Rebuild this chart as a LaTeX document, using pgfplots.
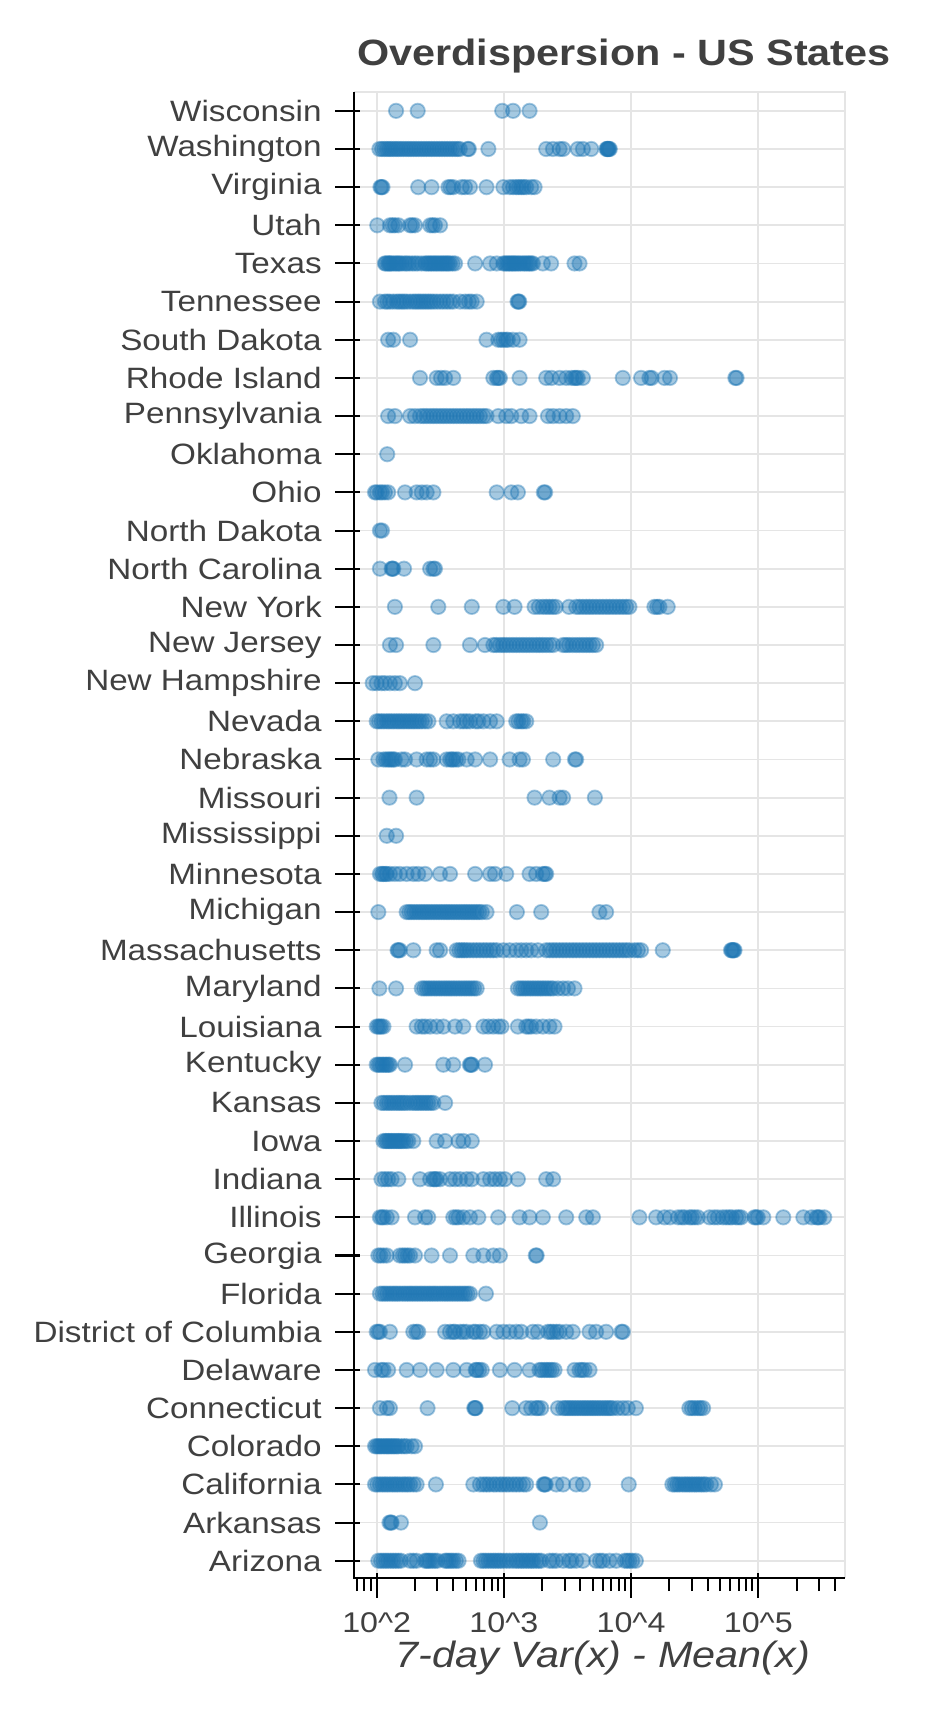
\documentclass[border=0pt]{standalone}
\usepackage{fontspec}
\setmainfont{Liberation Sans}[FakeStretch=1.13]
\usepackage{pgfplots}
\pgfplotsset{compat=1.18}
\definecolor{mblue}{HTML}{1F77B4}
\definecolor{gridgray}{HTML}{E5E5E5}
\definecolor{txtgray}{HTML}{404040}
\pgfplotsset{pts/.style={only marks, mark=*, mark size=2.4bp,
  mark options={draw=mblue, fill=mblue, opacity=0.4, line width=0.6bp}}}
\begin{document}
\begin{tikzpicture}
\useasboundingbox (0bp,0bp) rectangle (312.667bp,573bp);
\begin{axis}[at={(118bp,46.9bp)}, anchor=south west,
  width=163.67bp, height=495.5bp, scale only axis,
  xmode=log, xmin=66.3, xmax=480400, ymin=-0.46, ymax=38.5,
  xtick={100,1000,10000,100000},
  xticklabels={10\textasciicircum2,10\textasciicircum3,10\textasciicircum4,10\textasciicircum5},
  minor xtick={70,80,90,200,300,400,500,600,700,800,900,2000,3000,4000,5000,6000,7000,8000,9000,20000,30000,40000,50000,60000,70000,80000,90000,200000,300000,400000},
  ytick={0,...,38},
  yticklabels={Arizona,Arkansas,California,Colorado,Connecticut,Delaware,District of Columbia,Florida,Georgia,Illinois,Indiana,Iowa,Kansas,Kentucky,Louisiana,Maryland,Massachusetts,Michigan,Minnesota,Mississippi,Missouri,Nebraska,Nevada,New Hampshire,New Jersey,New York,North Carolina,North Dakota,Ohio,Oklahoma,Pennsylvania,Rhode Island,South Dakota,Tennessee,Texas,Utah,Virginia,Washington,Wisconsin},
  tick pos=left, tick align=outside,
  major tick length=8.2bp, minor tick length=4.3bp,
  every tick/.style={black, line width=0.67bp},
  every major x tick/.append style={yshift=1.7bp},
  every major y tick/.append style={xshift=2bp},
  grid=major, major grid style={color=gridgray, line width=0.6bp},
  axis line style={draw=none},
  ticklabel style={text=txtgray, inner sep=0pt},
  xticklabel style={font=\fontsize{9.5bp}{11bp}\selectfont, anchor=base, yshift=-9.9bp},
  yticklabel style={font=\fontsize{9.8bp}{11bp}\selectfont, anchor=east, xshift=-2.4bp},
  clip=false,
]
% 0 Arizona
\addplot[pts] coordinates {(103,0)(108,0)(113,0)(118,0)(123,0)(129,0)(135,0)(141,0)(148,0)(155,0)(183,0)(194,0)(206,0)(240,0)(247,0)(255,0)(263,0)(275,0)(287,0)(300,0)(345,0)(355,0)(370,0)(385,0)(400,0)(420,0)(440,0)(660,0)(690,0)(720,0)(755,0)(790,0)(826,0)(860,0)(903,0)(940,0)(990,0)(1050,0)(1108,0)(1180,0)(1250,0)(1300,0)(1369,0)(1420,0)(1498,0)(1560,0)(1640,0)(1700,0)(1795,0)(1880,0)(1965,0)(2280,0)(2420,0)(2580,0)(2920,0)(3250,0)(3400,0)(3700,0)(4180,0)(5310,0)(5700,0)(6000,0)(6770,0)(7640,0)(8900,0)(9300,0)(9700,0)(10200,0)(10900,0)};
% 1 Arkansas
\addplot[pts] coordinates {(126,1)(129,1)(131,1)(155,1)(1920,1)};
% 2 California
\addplot[pts] coordinates {(97,2)(101,2)(106,2)(111,2)(116,2)(121,2)(127,2)(133,2)(139,2)(145,2)(152,2)(160,2)(167,2)(175,2)(183,2)(195,2)(206,2)(292,2)(575,2)(648,2)(690,2)(730,2)(770,2)(826,2)(870,2)(930,2)(980,2)(1043,2)(1100,2)(1177,2)(1250,2)(1328,2)(1420,2)(1498,2)(2050,2)(2090,2)(2130,2)(2580,2)(2920,2)(3700,2)(4180,2)(9580,2)(21100,2)(22000,2)(23000,2)(24000,2)(25300,2)(26500,2)(27600,2)(28800,2)(30100,2)(31500,2)(32800,2)(34200,2)(35800,2)(37400,2)(39000,2)(42400,2)(45600,2)};
% 3 Colorado
\addplot[pts] coordinates {(97,3)(100,3)(103,3)(106,3)(109,3)(113,3)(116,3)(120,3)(123,3)(127,3)(131,3)(135,3)(139,3)(144,3)(148,3)(157,3)(165,3)(172,3)(188,3)(200,3)};
% 4 Connecticut
\addplot[pts] coordinates {(106,4)(120,4)(127,4)(251,4)(585,4)(594,4)(600,4)(1163,4)(1498,4)(1640,4)(1795,4)(1850,4)(1965,4)(2660,4)(2920,4)(3050,4)(3190,4)(3330,4)(3480,4)(3650,4)(3810,4)(4000,4)(4180,4)(4370,4)(4560,4)(4770,4)(4980,4)(5200,4)(5450,4)(5700,4)(5990,4)(6270,4)(6570,4)(6850,4)(7170,4)(7830,4)(8620,4)(9420,4)(10900,4)(28700,4)(30000,4)(31600,4)(33500,4)(35000,4)(36800,4)};
% 5 Delaware
\addplot[pts] coordinates {(97,5)(109,5)(113,5)(123,5)(172,5)(219,5)(296,5)(400,5)(510,5)(600,5)(611,5)(640,5)(670,5)(930,5)(1213,5)(1591,5)(1905,5)(1980,5)(2090,5)(2180,5)(2280,5)(2380,5)(2500,5)(3590,5)(3930,5)(4100,5)(4300,5)(4710,5)};
% 6 District of Columbia
\addplot[pts] coordinates {(100,6)(103,6)(106,6)(127,6)(194,6)(205,6)(212,6)(345,6)(377,6)(400,6)(413,6)(452,6)(480,6)(510,6)(575,6)(600,6)(648,6)(690,6)(878,6)(990,6)(1108,6)(1250,6)(1369,6)(1690,6)(1850,6)(2220,6)(2330,6)(2440,6)(2600,6)(2740,6)(3090,6)(3480,6)(4710,6)(5310,6)(6360,6)(8400,6)(8620,6)};
% 7 Florida
\addplot[pts] coordinates {(106,7)(111,7)(116,7)(121,7)(127,7)(133,7)(139,7)(145,7)(152,7)(160,7)(167,7)(175,7)(183,7)(191,7)(200,7)(209,7)(219,7)(229,7)(240,7)(251,7)(263,7)(275,7)(287,7)(300,7)(315,7)(330,7)(345,7)(360,7)(377,7)(395,7)(413,7)(432,7)(452,7)(473,7)(495,7)(518,7)(541,7)(722,7)};
% 8 Georgia
\addplot[pts] coordinates {(103,8)(107,8)(113,8)(120,8)(152,8)(160,8)(167,8)(175,8)(183,8)(200,8)(270,8)(377,8)(575,8)(690,8)(826,8)(930,8)(1780,8)(1810,8)};
% 9 Illinois
\addplot[pts] coordinates {(106,9)(110,9)(113,9)(120,9)(131,9)(200,9)(240,9)(254,9)(400,9)(420,9)(439,9)(480,9)(541,9)(630,9)(903,9)(1328,9)(1591,9)(2024,9)(3090,9)(4440,9)(5010,9)(11630,9)(15720,9)(18300,9)(20200,9)(23400,9)(25000,9)(26300,9)(28800,9)(30000,9)(31600,9)(33500,9)(41400,9)(45000,9)(48100,9)(52600,9)(56000,9)(59300,9)(62000,9)(66900,9)(70000,9)(73200,9)(93200,9)(96000,9)(99000,9)(109500,9)(157200,9)(226000,9)(262500,9)(287000,9)(295000,9)(303000,9)(330000,9)};
% 10 Indiana
\addplot[pts] coordinates {(109,10)(116,10)(123,10)(131,10)(148,10)(219,10)(263,10)(280,10)(287,10)(295,10)(315,10)(377,10)(413,10)(452,10)(510,10)(559,10)(690,10)(779,10)(850,10)(930,10)(1017,10)(1288,10)(2150,10)(2440,10)};
% 11 Iowa
\addplot[pts] coordinates {(113,11)(117,11)(120,11)(124,11)(127,11)(131,11)(135,11)(139,11)(144,11)(148,11)(152,11)(157,11)(162,11)(170,11)(177,11)(194,11)(296,11)(345,11)(439,11)(480,11)(559,11)};
% 12 Kansas
\addplot[pts] coordinates {(109,12)(114,12)(120,12)(125,12)(131,12)(137,12)(144,12)(150,12)(157,12)(164,12)(172,12)(183,12)(194,12)(203,12)(212,12)(222,12)(232,12)(243,12)(254,12)(266,12)(279,12)(345,12)};
% 13 Kentucky
\addplot[pts] coordinates {(100,13)(103,13)(106,13)(110,13)(113,13)(117,13)(120,13)(124,13)(127,13)(167,13)(334,13)(400,13)(540,13)(550,13)(560,13)(710,13)};
% 14 Louisiana
\addplot[pts] coordinates {(100,14)(103,14)(106,14)(109,14)(113,14)(206,14)(226,14)(240,14)(263,14)(296,14)(334,14)(413,14)(480,14)(690,14)(755,14)(826,14)(903,14)(959,14)(1288,14)(1498,14)(1560,14)(1640,14)(1795,14)(2024,14)(2280,14)(2500,14)};
% 15 Maryland
\addplot[pts] coordinates {(105,15)(142,15)(226,15)(236,15)(247,15)(258,15)(270,15)(283,15)(296,15)(310,15)(324,15)(340,15)(355,15)(371,15)(388,15)(406,15)(425,15)(445,15)(466,15)(488,15)(510,15)(533,15)(558,15)(584,15)(611,15)(1288,15)(1350,15)(1410,15)(1475,15)(1544,15)(1615,15)(1690,15)(1770,15)(1850,15)(1935,15)(2024,15)(2120,15)(2220,15)(2330,15)(2440,15)(2660,15)(2920,15)(3190,15)(3590,15)};
% 16 Massachusetts
\addplot[pts] coordinates {(146,16)(148,16)(152,16)(194,16)(296,16)(315,16)(425,16)(446,16)(466,16)(488,16)(510,16)(540,16)(575,16)(610,16)(648,16)(690,16)(730,16)(780,16)(826,16)(878,16)(990,16)(1108,16)(1250,16)(1369,16)(1498,16)(1640,16)(1850,16)(2150,16)(2290,16)(2430,16)(2580,16)(2740,16)(2910,16)(3090,16)(3290,16)(3490,16)(3700,16)(3930,16)(4180,16)(4440,16)(4720,16)(5010,16)(5320,16)(5650,16)(6000,16)(6380,16)(6780,16)(7200,16)(7650,16)(8120,16)(8620,16)(9150,16)(9700,16)(10600,16)(11300,16)(11980,16)(17730,16)(61000,16)(62000,16)(63000,16)(64000,16)(65000,16)};
% 17 Michigan
\addplot[pts] coordinates {(103,17)(172,17)(180,17)(188,17)(197,17)(206,17)(216,17)(226,17)(236,17)(247,17)(258,17)(270,17)(283,17)(296,17)(310,17)(324,17)(340,17)(355,17)(371,17)(388,17)(406,17)(425,17)(445,17)(466,17)(488,17)(510,17)(533,17)(558,17)(584,17)(611,17)(640,17)(670,17)(730,17)(1265,17)(1965,17)(5640,17)(6360,17)};
% 18 Minnesota
\addplot[pts] coordinates {(106,18)(110,18)(113,18)(117,18)(120,18)(127,18)(139,18)(152,18)(172,18)(194,18)(212,18)(240,18)(315,18)(377,18)(594,18)(779,18)(850,18)(1043,18)(1591,18)(1795,18)(2024,18)(2100,18)(2150,18)};
% 19 Mississippi
\addplot[pts] coordinates {(120,19)(142,19)};
% 20 Missouri
\addplot[pts] coordinates {(126,20)(206,20)(1742,20)(2280,20)(2740,20)(2920,20)(5190,20)};
% 21 Nebraska
\addplot[pts] coordinates {(103,21)(113,21)(118,21)(123,21)(127,21)(131,21)(135,21)(139,21)(157,21)(167,21)(206,21)(247,21)(263,21)(279,21)(355,21)(377,21)(390,21)(400,21)(420,21)(439,21)(510,21)(594,21)(779,21)(1108,21)(1328,21)(1410,21)(2440,21)(3620,21)(3700,21)};
% 22 Nevada
\addplot[pts] coordinates {(100,22)(104,22)(109,22)(114,22)(120,22)(125,22)(131,22)(137,22)(144,22)(150,22)(157,22)(164,22)(172,22)(180,22)(188,22)(197,22)(206,22)(216,22)(226,22)(240,22)(255,22)(355,22)(400,22)(452,22)(480,22)(510,22)(541,22)(600,22)(630,22)(690,22)(779,22)(878,22)(1250,22)(1300,22)(1369,22)(1420,22)(1498,22)};
% 23 New Hampshire
\addplot[pts] coordinates {(93,23)(100,23)(109,23)(116,23)(127,23)(139,23)(152,23)(200,23)};
% 24 New Jersey
\addplot[pts] coordinates {(127,24)(142,24)(279,24)(541,24)(710,24)(826,24)(870,24)(930,24)(985,24)(1043,24)(1108,24)(1177,24)(1250,24)(1328,24)(1410,24)(1498,24)(1590,24)(1690,24)(1800,24)(1905,24)(2020,24)(2150,24)(2290,24)(2440,24)(2920,24)(3080,24)(3250,24)(3470,24)(3700,24)(3930,24)(4180,24)(4440,24)(4710,24)(5000,24)(5310,24)};
% 25 New York
\addplot[pts] coordinates {(139,25)(305,25)(559,25)(990,25)(1213,25)(1742,25)(1880,25)(2024,25)(2150,25)(2280,25)(2420,25)(2560,25)(3250,25)(3700,25)(3930,25)(4180,25)(4440,25)(4710,25)(5000,25)(5310,25)(5650,25)(6000,25)(6380,25)(6770,25)(7200,25)(7640,25)(8120,25)(8620,25)(9150,25)(9700,25)(15250,25)(16000,25)(16700,25)(19400,25)};
% 26 North Carolina
\addplot[pts] coordinates {(106,26)(131,26)(133,26)(135,26)(164,26)(263,26)(279,26)(287,26)};
% 27 North Dakota
\addplot[pts] coordinates {(106,27)(110,27)};
% 28 Ohio
\addplot[pts] coordinates {(97,28)(100,28)(106,28)(110,28)(116,28)(123,28)(167,28)(206,28)(226,28)(247,28)(279,28)(878,28)(1144,28)(1288,28)(2060,28)(2110,28)};
% 29 Oklahoma
\addplot[pts] coordinates {(121,29)};
% 30 Pennsylvania
\addplot[pts] coordinates {(123,30)(139,30)(183,30)(200,30)(219,30)(233,30)(247,30)(263,30)(279,30)(296,30)(315,30)(334,30)(355,30)(377,30)(400,30)(425,30)(452,30)(480,30)(510,30)(540,30)(575,30)(610,30)(648,30)(690,30)(730,30)(903,30)(1043,30)(1144,30)(1369,30)(1591,30)(2220,30)(2440,30)(2740,30)(3090,30)(3480,30)};
% 31 Rhode Island
\addplot[pts] coordinates {(219,31)(296,31)(320,31)(345,31)(400,31)(826,31)(880,31)(903,31)(930,31)(1328,31)(2150,31)(2370,31)(2740,31)(3090,31)(3400,31)(3590,31)(3700,31)(3810,31)(4180,31)(8600,31)(11980,31)(13930,31)(14500,31)(18300,31)(20200,31)(66000,31)(67500,31)};
% 32 South Dakota
\addplot[pts] coordinates {(123,32)(135,32)(183,32)(730,32)(903,32)(950,32)(990,32)(1040,32)(1075,32)(1177,32)(1328,32)};
% 33 Tennessee
\addplot[pts] coordinates {(106,33)(116,33)(121,33)(127,33)(135,33)(144,33)(150,33)(157,33)(164,33)(172,33)(183,33)(194,33)(203,33)(212,33)(222,33)(232,33)(243,33)(254,33)(266,33)(279,33)(296,33)(315,33)(334,33)(355,33)(377,33)(400,33)(452,33)(495,33)(530,33)(558,33)(611,33)(1280,33)(1300,33)(1320,33)};
% 34 Texas
\addplot[pts] coordinates {(116,34)(118,34)(122,34)(125,34)(127,34)(130,34)(135,34)(140,34)(144,34)(148,34)(152,34)(158,34)(167,34)(172,34)(180,34)(190,34)(200,34)(210,34)(225,34)(240,34)(247,34)(255,34)(263,34)(270,34)(279,34)(287,34)(296,34)(305,34)(315,34)(325,34)(334,34)(345,34)(355,34)(365,34)(377,34)(395,34)(413,34)(594,34)(779,34)(878,34)(990,34)(1020,34)(1050,34)(1080,34)(1108,34)(1140,34)(1170,34)(1200,34)(1230,34)(1270,34)(1310,34)(1350,34)(1410,34)(1450,34)(1500,34)(1550,34)(1591,34)(1640,34)(1690,34)(2024,34)(2350,34)(3590,34)(3930,34)};
% 35 Utah
\addplot[pts] coordinates {(101,35)(127,35)(133,35)(139,35)(148,35)(183,35)(190,35)(200,35)(263,35)(275,35)(287,35)(315,35)};
% 36 Virginia
\addplot[pts] coordinates {(107,36)(109,36)(111,36)(212,36)(270,36)(366,36)(380,36)(400,36)(466,36)(495,36)(541,36)(730,36)(990,36)(1108,36)(1180,36)(1250,36)(1310,36)(1369,36)(1430,36)(1498,36)(1640,36)(1742,36)};
% 37 Washington
\addplot[pts] coordinates {(105,37)(110,37)(115,37)(120,37)(125,37)(130,37)(136,37)(142,37)(148,37)(155,37)(162,37)(170,37)(178,37)(186,37)(195,37)(204,37)(214,37)(224,37)(235,37)(246,37)(258,37)(270,37)(283,37)(297,37)(311,37)(326,37)(342,37)(358,37)(376,37)(394,37)(413,37)(433,37)(450,37)(520,37)(530,37)(755,37)(2150,37)(2430,37)(2740,37)(2920,37)(3810,37)(4180,37)(4860,37)(6400,37)(6500,37)(6550,37)(6600,37)(6700,37)(6800,37)};
% 38 Wisconsin
\addplot[pts] coordinates {(142,38)(210,38)(970,38)(1180,38)(1590,38)};
\draw[gridgray, line width=0.6bp] (rel axis cs:0,1) -- (rel axis cs:1,1) -- (rel axis cs:1,0);
\draw[black, line width=0.67bp] (rel axis cs:0,1) -- (rel axis cs:0,0) -- (rel axis cs:1,0);
\end{axis}
\node[anchor=base, text=txtgray, font=\fontsize{12.2bp}{14bp}\selectfont\bfseries] at (208bp,551.2bp) {Overdispersion - US States};
\node[anchor=base, text=txtgray, font=\fontsize{12.2bp}{14bp}\selectfont\itshape] at (200.9bp,17.1bp) {7-day Var(x) - Mean(x)};
\end{tikzpicture}
\end{document}
